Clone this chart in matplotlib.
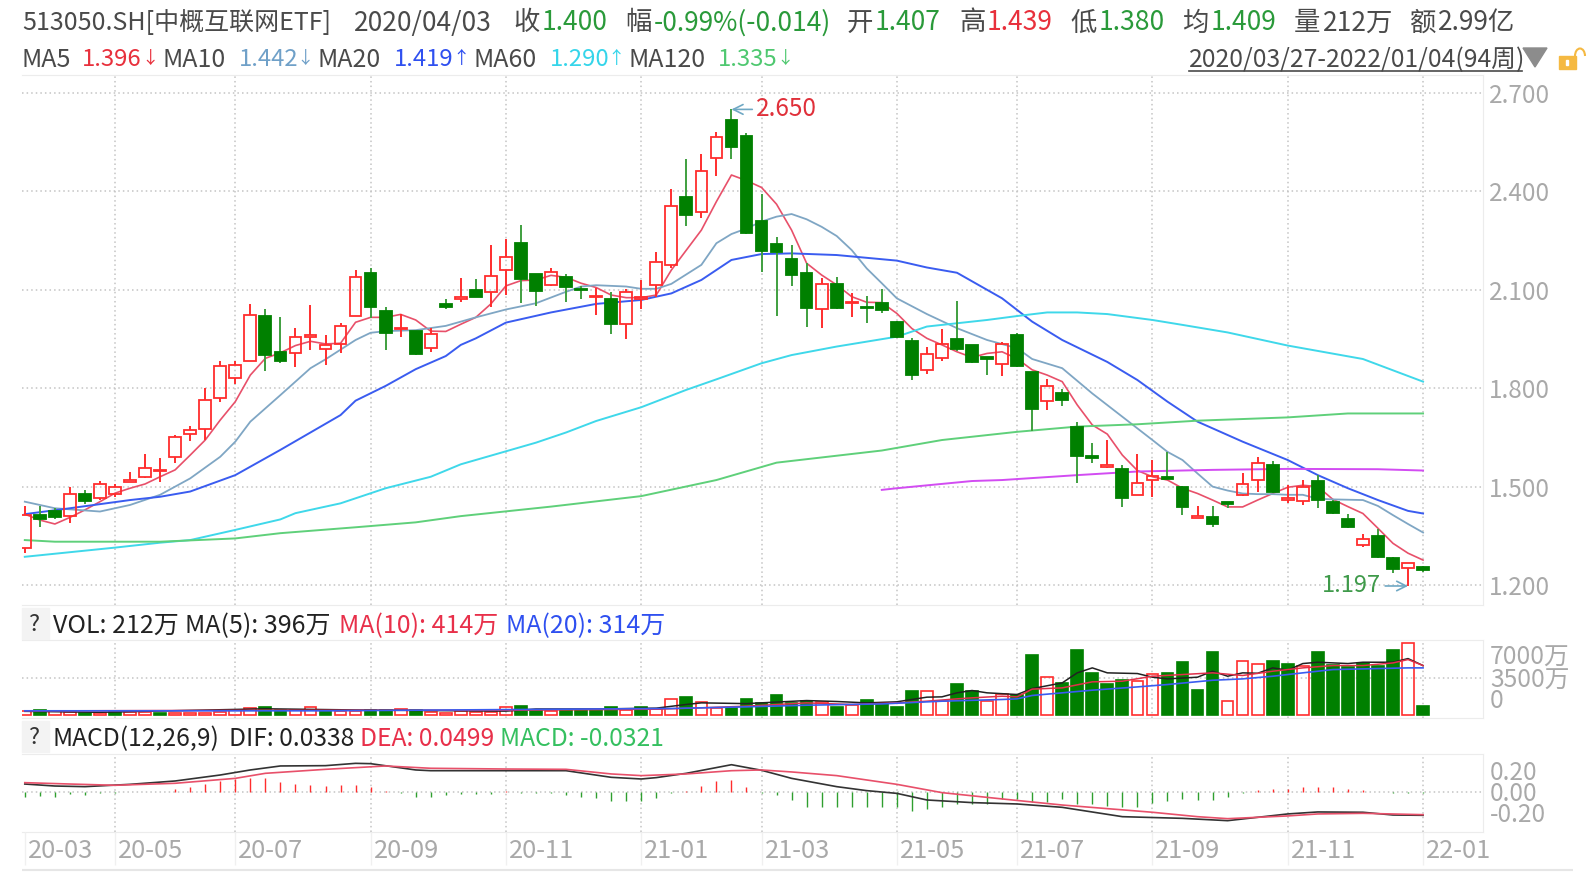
import matplotlib
matplotlib.use("Agg")
import matplotlib.pyplot as plt
from matplotlib.patches import Polygon, Rectangle, Arc

plt.rcParams['font.family'] = ['Noto Sans CJK SC', 'DejaVu Sans']

# weekly candles, index 0 = 2020/03/27
opens = [1.312,1.414,1.427,1.410,1.478,1.465,1.477,1.515,1.530,1.547,1.591,1.660,1.675,1.769,1.830,1.884,2.020,1.911,1.906,1.957,
         1.919,1.935,2.021,2.152,2.035,1.979,1.974,1.923,2.057,2.072,2.098,2.093,2.160,2.244,2.148,2.114,2.139,2.101,2.079,2.073,
         1.996,2.073,2.114,2.176,2.382,2.338,2.501,2.618,2.569,2.311,2.240,2.194,2.152,2.042,2.119,2.061,2.048,2.061,2.003,1.945,
         1.855,1.893,1.949,1.932,1.894,1.874,1.961,1.848,1.761,1.786,1.681,1.592,1.561,1.554,1.473,1.520,1.528,1.500,1.405,1.408,
         1.453,1.474,1.520,1.566,1.459,1.457,1.517,1.454,1.400,1.323,1.350,1.283,1.253,1.255]
closes = [1.413,1.400,1.406,1.478,1.455,1.508,1.500,1.520,1.557,1.551,1.652,1.673,1.764,1.868,1.872,2.023,1.901,1.884,1.955,1.961,
          1.933,1.990,2.138,2.047,1.967,1.983,1.904,1.964,2.047,2.077,2.079,2.142,2.201,2.133,2.097,2.154,2.109,2.098,2.082,1.996,
          2.093,2.077,2.185,2.356,2.328,2.463,2.567,2.536,2.274,2.219,2.214,2.145,2.045,2.119,2.045,2.064,2.043,2.038,1.955,1.840,
          1.905,1.935,1.921,1.880,1.890,1.935,1.868,1.736,1.807,1.764,1.594,1.588,1.566,1.464,1.512,1.532,1.523,1.439,1.410,1.385,
          1.448,1.507,1.573,1.485,1.464,1.500,1.459,1.418,1.378,1.341,1.286,1.249,1.266,1.245]
highs = [1.441,1.441,1.434,1.500,1.490,1.516,1.508,1.543,1.600,1.586,1.657,1.686,1.800,1.883,1.882,2.057,2.041,2.016,1.983,2.054,
         1.962,1.999,2.160,2.167,2.049,2.026,1.975,1.983,2.071,2.135,2.132,2.237,2.254,2.298,2.148,2.165,2.148,2.112,2.105,2.094,
         2.102,2.130,2.216,2.406,2.498,2.514,2.582,2.650,2.577,2.392,2.262,2.236,2.181,2.135,2.140,2.089,2.081,2.101,2.006,1.952,
         1.926,1.982,2.066,1.932,1.896,1.942,1.967,1.850,1.827,1.799,1.698,1.632,1.642,1.566,1.599,1.581,1.606,1.502,1.441,1.442,
         1.453,1.540,1.591,1.579,1.505,1.520,1.535,1.459,1.416,1.355,1.371,1.286,1.267,1.258]
lows = [1.298,1.378,1.400,1.390,1.447,1.459,1.469,1.514,1.525,1.515,1.571,1.640,1.642,1.759,1.813,1.884,1.851,1.876,1.864,1.915,
        1.871,1.908,2.021,2.013,1.916,1.955,1.901,1.911,2.040,2.064,2.079,2.049,2.084,2.059,2.051,2.112,2.062,2.071,2.024,1.965,
        1.950,2.040,2.079,2.165,2.294,2.320,2.448,2.498,2.270,2.155,2.020,2.112,1.988,1.983,2.042,2.016,1.999,2.030,1.952,1.825,
        1.843,1.884,1.914,1.876,1.840,1.837,1.866,1.671,1.734,1.747,1.510,1.573,1.556,1.439,1.473,1.469,1.523,1.413,1.403,1.378,
        1.434,1.472,1.485,1.480,1.451,1.444,1.434,1.416,1.373,1.315,1.281,1.236,1.197,1.241]

ma5 = [1.416,1.398,1.386,1.406,1.429,1.454,1.480,1.495,1.508,1.530,1.551,1.596,1.642,1.703,1.759,1.840,1.891,1.908,1.930,1.943,
       1.935,1.937,2.001,2.016,2.016,2.025,2.008,1.974,1.973,1.995,2.016,2.057,2.112,2.128,2.130,2.144,2.138,2.120,2.107,2.084,
       2.076,2.076,2.084,2.160,2.221,2.282,2.369,2.450,2.433,2.412,2.361,2.282,2.181,2.145,2.115,2.079,2.062,2.061,2.028,1.982,
       1.952,1.932,1.911,1.894,1.906,1.911,1.890,1.856,1.840,1.820,1.749,1.688,1.660,1.596,1.549,1.530,1.520,1.495,1.479,1.459,
       1.438,1.438,1.459,1.479,1.498,1.504,1.500,1.461,1.439,1.418,1.373,1.327,1.297,1.276]

ma10_idx = [0,2,5,7,9,11,13,14,15,17,19,20,22,23,24,26,28,30,32,34,36,37,38,40,41,42,43,45,46,47,48,49,50,51,52,53,54,55,56,57,58,60,62,64,66,67,69,71,73,75,76,77,78,79,80,81,82,83,84,85,86,87,89,90,91,92,93]
ma10 = [1.454,1.434,1.424,1.444,1.475,1.525,1.591,1.637,1.698,1.779,1.861,1.888,1.947,1.969,1.974,1.977,1.990,2.016,2.040,2.059,2.094,2.110,2.114,2.110,2.103,2.103,2.118,2.176,2.242,2.270,2.287,2.308,2.323,2.331,2.315,2.292,2.264,2.221,2.165,2.120,2.074,2.026,1.983,1.947,1.922,1.889,1.861,1.784,1.713,1.642,1.606,1.581,1.540,1.500,1.488,1.479,1.477,1.477,1.475,1.475,1.463,1.461,1.459,1.441,1.413,1.386,1.360]

ma20_idx = [0,3,7,9,11,14,17,21,22,24,26,28,29,30,32,35,38,41,43,45,47,49,51,54,58,60,62,65,67,69,72,74,76,78,81,84,86,88,90,92,93]
ma20 = [1.416,1.434,1.459,1.469,1.485,1.535,1.612,1.718,1.762,1.807,1.858,1.898,1.932,1.952,2.000,2.031,2.057,2.069,2.089,2.130,2.191,2.209,2.211,2.206,2.189,2.168,2.152,2.074,2.003,1.947,1.880,1.825,1.759,1.698,1.637,1.581,1.535,1.495,1.459,1.426,1.418]

ma60_idx = [0,6,9,11,14,17,18,21,24,27,29,34,36,38,41,44,46,49,51,54,58,60,64,66,68,70,72,75,77,80,84,89,93]
ma60 = [1.286,1.314,1.329,1.337,1.368,1.400,1.419,1.449,1.495,1.530,1.568,1.634,1.665,1.700,1.742,1.795,1.827,1.876,1.901,1.927,1.957,1.988,2.008,2.020,2.031,2.031,2.026,2.008,1.993,1.970,1.930,1.889,1.820]

ma120_idx = [0,2,9,14,17,22,26,29,35,41,46,50,57,61,66,70,74,78,84,88,93]
ma120 = [1.337,1.332,1.332,1.342,1.358,1.376,1.391,1.410,1.439,1.471,1.520,1.573,1.610,1.642,1.667,1.683,1.690,1.701,1.711,1.723,1.723]

ma250_idx = [57,58,63,65,70,74,79,84,90,93]
ma250 = [1.490,1.495,1.517,1.520,1.535,1.546,1.551,1.554,1.553,1.549]

# volume, 10k shares
volume = [315,410,315,220,160,160,220,220,220,160,160,160,160,220,470,600,725,470,410,725,
          410,315,315,470,410,535,410,220,160,285,220,220,700,850,470,315,470,470,470,725,
          470,725,535,1480,1640,1165,600,600,1480,1100,1800,1100,1320,1165,725,945,1350,1100,725,2270,
          2200,1260,2930,2200,1260,1900,1890,5640,3560,2990,6140,3940,2930,3310,3210,3840,3940,4980,2300,5890,
          1260,5070,4820,5100,4820,4570,5890,4725,4500,4880,4630,6140,6770,850]
vol_side = "RGRRGRGRRGRRRRRRGGRRGRRGGRGRRRRRRGGRGGGGRGRRGRRGGGGGGRGRGGGGRRGGRRGGRGGGGGRRGGGGRRRGGRGGGGGGRG"

vol5_idx = [0,5,16,22,32,34,38,42,44,45,48,52,54,56,58,60,61,62,63,64,66,67,69,70,71,72,74,75,76,78,79,80,81,82,83,84,85,86,88,89,91,92,93]
vol5 = [300,210,540,430,320,520,520,600,950,1100,1030,1320,1230,1100,1200,1640,1670,2050,2270,2050,1890,2450,2990,3940,4410,3940,3875,3530,3370,3530,4095,3620,3940,3900,4410,4190,4820,4945,4820,4945,4945,5290,4630]
vol10_idx = [0,16,32,42,45,48,52,55,58,60,62,63,65,66,67,69,71,73,75,77,79,81,83,85,87,89,91,92,93]
vol10 = [340,400,400,500,630,790,1100,945,1100,1260,1480,1575,1730,1670,2400,2520,3090,3150,3620,3780,3940,3690,4095,4410,4630,4630,4880,5200,4630]
vol20_idx = [0,20,43,48,52,57,61,65,66,67,69,71,74,76,79,81,83,85,87,89,92,93]
vol20 = [350,350,570,725,880,1000,1260,1420,1480,1800,2050,2300,2610,2835,3240,3370,3620,3940,4250,4315,4410,4410]

dif_idx = [0,2,4,7,10,13,15,17,20,22,23,26,27,31,36,39,41,42,44,47,49,51,54,56,58,60,63,66,69,73,77,80,82,84,86,89,91,93]
dif = [0.079,0.060,0.054,0.076,0.108,0.165,0.213,0.251,0.254,0.276,0.273,0.213,0.206,0.206,0.206,0.143,0.127,0.140,0.181,0.263,0.210,0.133,0.054,0.016,-0.010,-0.073,-0.098,-0.111,-0.143,-0.232,-0.248,-0.270,-0.238,-0.206,-0.187,-0.190,-0.216,-0.219]
dea_idx = [0,3,6,10,14,16,20,24,27,32,36,39,41,44,47,49,51,54,58,61,65,69,75,78,80,84,86,89,93]
dea = [0.092,0.079,0.067,0.086,0.133,0.181,0.219,0.251,0.229,0.222,0.219,0.175,0.159,0.175,0.206,0.213,0.194,0.159,0.076,-0.003,-0.063,-0.121,-0.190,-0.232,-0.251,-0.225,-0.206,-0.200,-0.213]
macd = [-0.041,-0.035,-0.040,-0.012,-0.025,-0.010,-0.003,0.000,0.006,0.006,0.030,0.050,0.080,0.110,0.130,0.140,0.135,0.100,0.075,0.070,
        0.060,0.065,0.070,0.050,0.015,-0.005,-0.045,-0.045,-0.030,-0.015,-0.020,-0.020,0.010,-0.003,-0.003,-0.010,-0.030,-0.045,-0.050,-0.085,
        -0.080,-0.080,-0.050,-0.002,0.015,0.060,0.110,0.115,0.050,-0.005,-0.030,-0.070,-0.137,-0.143,-0.143,-0.143,-0.143,-0.143,-0.143,-0.175,
        -0.160,-0.143,-0.110,-0.110,-0.110,-0.067,-0.067,-0.090,-0.090,-0.067,-0.110,-0.110,-0.127,-0.137,-0.137,-0.105,-0.083,-0.067,-0.073,-0.073,
        -0.041,-0.010,0.022,0.035,0.035,0.048,0.048,0.048,0.029,0.022,0.003,-0.006,-0.006,-0.006]

grid_idx = [0,6,14,23,32,41,49,58,66,75,84,93]
month_labels = ["20-03","20-05","20-07","20-09","20-11","21-01","21-03","21-05","21-07","21-09","21-11","22-01"]
price_ticks = [1.2,1.5,1.8,2.1,2.4,2.7]
vol_labels = ["7000万","3500万","0"]

RED = "#ff2d2d"
GREEN = "#008000"
WICK_GREEN = "#3f9f3f"
BLUE_GREY = "#7fa6c4"
GREY = "#a9a9a9"
GRID = "#c4c4c4"
W, H = 1594, 873
X0, STEP = 24.8, 15.035
LEFT, RIGHT = 22, 1483
idx = list(range(len(opens)))


def panel(top, bottom):
    ax = fig.add_axes([LEFT / W, 1 - bottom / H, (RIGHT - LEFT) / W, (bottom - top) / H])
    ax.set_xlim((LEFT - X0) / STEP, (RIGHT - X0) / STEP)
    ax.patch.set_alpha(0)
    ax.tick_params(length=0, labelbottom=False)
    ax.yaxis.tick_right()
    for s in ax.spines.values():
        s.set_color("#ececec")
    ax.spines["left"].set_visible(False)
    ax.set_xticks(grid_idx[1:])
    ax.grid(True, color=GRID, linestyle=(0, (1, 2)), linewidth=1.1)
    ax.set_axisbelow(True)
    return ax


fig = plt.figure(figsize=(W / 100, H / 100), dpi=100, facecolor="white")

# price panel
ax = panel(75, 605)
ax.set_ylim(1.2 - 20 / 328, 1.2 + 510 / 328)
ax.set_yticks(price_ticks, ["%.3f" % p for p in price_ticks], color=GREY, fontsize=17.5)
ax.tick_params(axis="y", pad=4)
ax.plot(idx, ma5, color="#e8506a", lw=1.2, zorder=2)
ax.plot(ma10_idx, ma10, color=BLUE_GREY, lw=1.3, zorder=2)
ax.plot(ma20_idx, ma20, color="#3a5cf0", lw=1.4, zorder=2)
ax.plot(ma60_idx, ma60, color="#3fd8ea", lw=1.4, zorder=2)
ax.plot(ma120_idx, ma120, color="#5fd07a", lw=1.4, zorder=2)
ax.plot(ma250_idx, ma250, color="#d24cf2", lw=1.4, zorder=2)
for i in idx:
    up = closes[i] >= opens[i]
    top, bot = max(opens[i], closes[i]), min(opens[i], closes[i])
    c = RED if up else GREEN
    ax.vlines(i, top, highs[i], color=RED if up else WICK_GREEN, lw=1.4, zorder=3)
    ax.vlines(i, lows[i], bot, color=RED if up else WICK_GREEN, lw=1.4, zorder=3)
    ax.bar(i, top - bot, bottom=bot, width=0.78, facecolor="none" if up else GREEN, edgecolor=c, lw=1.3, zorder=4)
ax.annotate("2.650", xy=(47, 2.650), xytext=(25, 0), textcoords="offset pixels", color="#e0303a", fontsize=17.5,
            va="center", ha="left", arrowprops=dict(arrowstyle="->", color="#6fa8c4", lw=1.2, shrinkA=1, shrinkB=0))
ax.annotate("1.197", xy=(92, 1.197), xytext=(-27, 0), textcoords="offset pixels", color="#3f9a4a", fontsize=17,
            va="center", ha="right", arrowprops=dict(arrowstyle="->", color="#6fa8c4", lw=1.2, shrinkA=1, shrinkB=0))

# volume panel
ax_vol = panel(640, 718)
ax_vol.set_ylim(-331, 7048)
ax_vol.set_yticks([3500], [""])
for i in idx:
    up = vol_side[i] == "R"
    ax_vol.bar(i, volume[i], width=0.78, facecolor="none" if up else GREEN, edgecolor=RED if up else GREEN, lw=1.2, zorder=2)
ax_vol.plot(vol5_idx, vol5, color="#222222", lw=1.1, zorder=3)
ax_vol.plot(vol10_idx, vol10, color="#e0304a", lw=1.1, zorder=3)
ax_vol.plot(vol20_idx, vol20, color="#3a5cf0", lw=1.2, zorder=3)

# macd panel
ax_macd = panel(754, 832)
ax_macd.set_ylim(-0.378, 0.365)
ax_macd.set_yticks([0.0], [""])
for i in idx:
    ax_macd.vlines(i, 0, macd[i], color=RED if macd[i] >= 0 else "#2f9f2f", lw=1.0, zorder=2)
ax_macd.plot(dif_idx, dif, color="#333333", lw=1.2, zorder=3)
ax_macd.plot(dea_idx, dea, color="#e8506a", lw=1.2, zorder=3)

# date row
ax_x = fig.add_axes([LEFT / W, 1 - 871 / H, (RIGHT - LEFT) / W, 39 / H])
ax_x.set_xlim(ax.get_xlim())
ax_x.set_ylim(0, 1)
ax_x.axis("off")
ax_x.vlines(grid_idx, 0.15, 1, color="#f0f0f0", lw=1)
ax_x.hlines(0.02, (LEFT - X0) / STEP, 103, color="#e6e6e6", lw=1.5, clip_on=False)
for i, lab in zip(grid_idx, month_labels):
    ax_x.annotate(lab, xy=(i, 0.5), xytext=(3, 0), textcoords="offset pixels", color=GREY, fontsize=18.3, va="center", ha="left")

# header text, in pixels of the picture
over = fig.add_axes([0, 0, 1, 1], facecolor="none")
over.set_xlim(0, W)
over.set_ylim(H, 0)
over.axis("off")
DARK = "#4a4a4a"
UP = "#e8303c"
DOWN = "#2a9a3a"
row1 = [(354, "2020/04/03", DARK), (513, "收", DARK), (542, "1.400", DOWN),
        (625, "幅", DARK), (654, "-0.99%(-0.014)", DOWN), (847, "开", DARK), (875, "1.407", DOWN), (959, "高", DARK),
        (987, "1.439", UP), (1070, "低", DARK), (1099, "1.380", DOWN), (1182, "均", DARK), (1211, "1.409", DOWN),
        (1294, "量", DARK), (1323, "212万", DARK), (1410, "额", DARK), (1438, "2.99亿", DARK)]
row2 = [(22, "MA5", DARK), (163, "MA10", DARK), (318, "MA20", DARK), (474, "MA60", DARK), (629, "MA120", DARK)]
row2_values = [(82, "1.396", UP), (239, "1.442", "#6fa0c8"), (394, "1.419", "#2f50f0"), (550, "1.290", "#35d5ea"), (718, "1.335", "#4fc870")]
row2_arrows = [(150, "↓", UP), (305, "↓", "#6fa0c8"), (461, "↑", "#2f50f0"), (616, "↑", "#35d5ea"), (785, "↓", "#4fc870")]
vol_row = [(53, "VOL: 212万", "#222222"), (185, "MA(5): 396万", "#222222"), (339, "MA(10): 414万", "#e8304a"), (506, "MA(20): 314万", "#2f50f0")]
macd_row = [(53, "MACD(12,26,9)", "#222222"), (229, "DIF: 0.0338", "#222222"), (360, "DEA: 0.0499", "#e8304a"), (500, "MACD: -0.0321", "#35c060")]
over.text(22, 23, "513050.SH[中概互联网ETF]", color=DARK, fontsize=18, va="center", ha="left")
for y, row, size in [(23, row1, 19), (60, row2, 18), (60, row2_values, 17.2), (626, vol_row, 18), (739, macd_row, 17.8)]:
    for x, s, c in row:
        over.text(x, y, s, color=c, fontsize=size, va="center", ha="left")
for x, s, c in row2_arrows:
    over.text(x, 59, s, color=c, fontsize=12.5, va="center", ha="center")
over.text(1189, 60, "2020/03/27-2022/01/04(94周)", color=DARK, fontsize=17.8, va="center", ha="left")
over.plot([1189, 1522], [71, 71], color=DARK, lw=1.2)
over.add_patch(Polygon([(1523, 48), (1547, 48), (1535, 67)], color="#8c8c8c"))
over.add_patch(Rectangle((1559, 56), 17, 13, color="#f5b942"))
over.add_patch(Rectangle((1566, 60), 2.5, 5, color="white"))
over.add_patch(Arc((1580, 56), 10, 15, theta1=180, theta2=360, color="#f5b942", lw=1.5))
for y0, y1 in [(608, 639), (721, 752)]:
    over.add_patch(Rectangle((22, y0), 27, y1 - y0, color="#f3f3f3", zorder=0))
    over.text(34, (y0 + y1) / 2 + 1, "?", color="#333333", fontsize=17, va="center", ha="center")
for y, s in zip([658, 681, 701], vol_labels):
    over.text(1490, y, s, color=GREY, fontsize=17.8, va="center", ha="left")
for y, s in zip([773, 794, 815], ["0.20", "0.00", "-0.20"]):
    over.text(1490, y, s, color=GREY, fontsize=17.5, va="center", ha="left")

fig.savefig("out.png", dpi=100)
